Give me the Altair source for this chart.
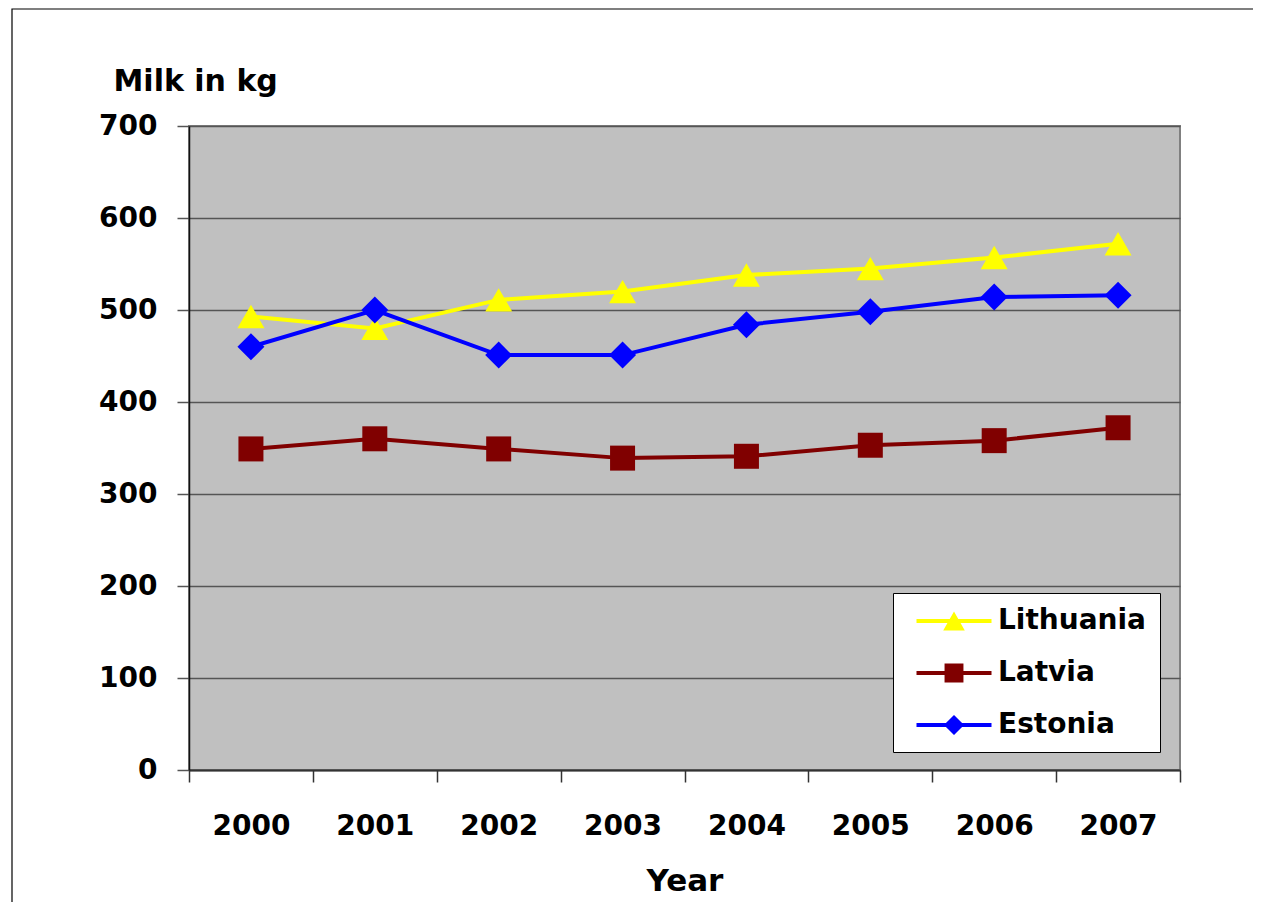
import altair as alt
import pandas as pd

years = ["2000", "2001", "2002", "2003", "2004", "2005", "2006", "2007"]
series = ["Lithuania", "Latvia", "Estonia"]
lithuania = [493, 480, 511, 520, 538, 545, 557, 572]
latvia = [349, 360, 349, 339, 341, 353, 358, 372]
estonia = [460, 500, 451, 451, 484, 498, 514, 516]
colors = ["#FFFF00", "#800000", "#0000FF"]
marker_shapes = ["triangle-up", "square", "diamond"]
marker_sizes = [729, 625, 729]
y_ticks = [0, 100, 200, 300, 400, 500, 600, 700]

# legend symbols: a line segment with the marker drawn on it (unit path coords)
line_part = "M-2.5,-0.13H2.5V0.13H-2.5Z"
legend_paths = [
    line_part + "M0,-0.63L0.72,0.63H-0.72Z",
    line_part + "M-0.63,-0.63H0.63V0.63H-0.63Z",
    line_part + "M0,-0.67L0.67,0L0,0.67L-0.67,0Z",
]

rows = []
for name, vals in zip(series, [lithuania, latvia, estonia]):
    for yr, v in zip(years, vals):
        rows.append({"Year": yr, "Milk": v, "Country": name})
df = pd.DataFrame(rows)

FONT = "DejaVu Sans"

x_enc = alt.X(
    "Year:O",
    scale=alt.Scale(type="band", paddingInner=0, paddingOuter=0),
    axis=alt.Axis(
        title="Year",
        titleFont=FONT, titleFontSize=31, titleFontWeight="bold", titleColor="black",
        titleY=120, titleBaseline="alphabetic",
        labelFont=FONT, labelFontSize=28, labelFontWeight="bold", labelColor="black",
        labelAngle=0, labelBaseline="alphabetic", labelPadding=52,
        tickSize=12, tickBand="extent", tickColor="#333333", tickWidth=1.5,
        domainColor="#333333", domainWidth=2, grid=False,
    ),
)
y_enc = alt.Y(
    "Milk:Q",
    scale=alt.Scale(domain=[0, 700], nice=False),
    axis=alt.Axis(
        values=y_ticks, format="d",
        title="Milk in kg", titleAngle=0, titleX=-76, titleY=-36,
        titleAlign="left", titleBaseline="alphabetic",
        titleFont=FONT, titleFontSize=30, titleFontWeight="bold", titleColor="black",
        labelFont=FONT, labelFontSize=28, labelFontWeight="bold", labelColor="black",
        labelPadding=20, tickSize=12, tickColor="#555555", tickWidth=1.5,
        domainColor="#111111", domainWidth=1.5,
        grid=True, gridColor="#555555", gridWidth=1.4,
    ),
)
color_scale = alt.Scale(domain=series, range=colors)

base = alt.Chart(df)

frame = alt.Chart(alt.Data(values=[{"f": 1}])).mark_rect(
    fill="transparent", stroke="black", strokeWidth=1.2
).encode(
    x=alt.value(-177), x2=alt.value(1400), y=alt.value(-117), y2=alt.value(1200)
)

lines = base.mark_line(strokeWidth=4).encode(
    x=x_enc, y=y_enc,
    color=alt.Color("Country:N", scale=color_scale, legend=None),
)

point_layers = []
for name, shp, sz in zip(series, marker_shapes, marker_sizes):
    point_layers.append(
        base.transform_filter(alt.datum.Country == name)
        .mark_point(filled=True, shape=shp, size=sz, opacity=1)
        .encode(
            x=x_enc, y=y_enc,
            color=alt.Color("Country:N", scale=color_scale, legend=None),
        )
    )

legend_props = dict(
    orient="none", legendX=704, legendY=467, title=None,
    labelFont=FONT, labelFontSize=28, labelFontWeight="bold", labelColor="black",
    labelLimit=400,
    fillColor="white", strokeColor="black", padding=13,
    symbolOffset=33, labelOffset=29, rowPadding=23,
    symbolSize=900, symbolOpacity=1, symbolStrokeWidth=0,
)

legend_layer = base.mark_point(filled=True, size=900, opacity=0).encode(
    x=x_enc, y=y_enc,
    color=alt.Color("Country:N", scale=color_scale, legend=alt.Legend(**legend_props)),
    shape=alt.Shape(
        "Country:N",
        scale=alt.Scale(domain=series, range=legend_paths),
        legend=alt.Legend(**legend_props),
    ),
)

chart = (
    alt.layer(frame, lines, *point_layers, legend_layer)
    .resolve_legend(color="independent", shape="independent")
    .properties(
        width=991, height=644,
        autosize=alt.AutoSizeParams(type="none"),
        padding={"left": 181, "top": 118, "right": 73, "bottom": 132},
        background="white",
    )
    .configure_view(fill="#C0C0C0", stroke="#808080", strokeWidth=2)
)

chart.save("out.html", embed_options={"renderer": "svg", "actions": False})
